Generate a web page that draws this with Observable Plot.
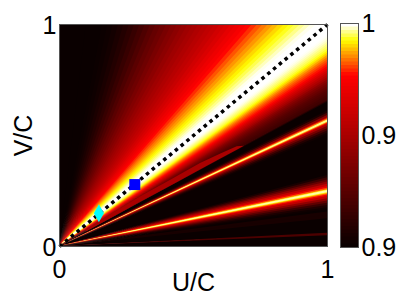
<!DOCTYPE html>
<html>
<head>
<meta charset="utf-8">
<script src="https://cdn.jsdelivr.net/npm/d3@7"></script>
<script src="https://cdn.jsdelivr.net/npm/@observablehq/plot@0.6"></script>
<style>
html,body{margin:0;padding:0;background:#fff;}
#chart{display:flex;width:398px;height:308px;}
svg{display:block;}
</style>
</head>
<body>
<div id="chart"></div>
<script>
// Colour stops of the colour bar (level -> colour)
const colorDomain = [0, 0.77, 0.93, 1];
const colorRange = ["#0a0000", "#ff0000", "#ffff00", "#ffffff"];

// Level read along the top edge (V/C = 1), by U/C
const topU = [0, .10, .16, .18, .20, .22, .24, .26, .28, .30, .32, .34, .36, .38, .40, .42, .44, .46, .48, .50,
  .52, .54, .56, .58, .60, .62, .64, .66, .68, .70, .72, .74, .76, .78, .80, .82, .84, .86, .88, .90, .92, .94, .96, .98, 1];
const topLevel = [0, 0, 0, .01, .02, .04, .065, .09, .125, .16, .195, .23, .27, .30, .33, .365, .395, .425, .455, .48,
  .505, .53, .555, .58, .61, .64, .67, .705, .73, .76, .785, .81, .835, .855, .875, .895, .915, .93, .945, .96, .975, .99, 1, 1, 1];

// Level read along the right edge (U/C = 1), by V/C
const rightV = [.98, .96, .95, .94, .93, .92, .91, .90, .89, .88, .87, .86, .85, .84, .83, .82, .81, .80, .79, .78, .77, .76, .75, .74, .73, .72, .71, .70, .69, .68, .67, .66, .655,
  .65, .61, .60, .59, .58, .575, .57, .565, .56, .555, .55, .54, .53, .52, .51, .50,
  .32, .31, .30, .29, .28, .27, .262, .256, .252, .247, .242, .238, .232, .225, .215, .205, .195, .185, .175, .165,
  .155, .14, .125, .06, .054, .048, 0];
const rightLevel = [1, 1, 1, .995, .99, .98, .97, .96, .95, .935, .915, .885, .855, .83, .81, .79, .77, .71, .65, .6, .55, .5, .44, .38, .34, .3, .27, .24, .22, .2, .18, .16, .15,
  0, 0, .1, .3, .55, .75, .93, 1, .93, .77, .6, .42, .25, .12, .04, 0,
  0, .1, .22, .36, .5, .65, .77, .88, .95, 1, .95, .88, .77, .65, .5, .34, .2, .09, .03, 0,
  0, .09, 0, 0, .42, 0, 0];

// Lens-shaped patch below the bright band
const lensU =      [.10, .20, .30, .42, .526, .60, .663, .69];
const lensTop =    [.076, .15, .222, .302, .374, .415, .449, .452];
const lensBottom = [.0655, .131, .197, .275, .345, .393, .434, .452];
const lensLevel = 0.5;

// Diagonal and markers
const diagonalU = [0, 1];
const diagonalV = [0, 1];
const squarePoint = {u: .281, v: .279};
const diamondPoint = {u: .147, v: .15};

// Ticks
const axisTicks = [0, 1];
const barLevels = [0,1,2,3,4,5,6,7,8,9,10,11,12,13,14,15,16,17,18,19,20,21,22,23,24,25,26,27,28,29,30,31,
  32,33,34,35,36,37,38,39,40,41,42,43,44,45,46,47,48,49,50,51,52,53,54,55,56,57,58,59,60,61,62,63];
const barTicks = [0, 32, 64];
const barTickLabels = ["0.9", "0.9", "1"];

// Each ray runs from the origin to a point on the frame
const rays = [
  ...topU.map((u, i) => ({u, v: 1, level: topLevel[i]})),
  ...rightV.map((v, i) => ({u: 1, v, level: rightLevel[i]}))
];
// Each wedge overlaps the next so no seam shows
const wedgeRows = rays.slice(0, -1).flatMap((r, i) => {
  const next = rays[Math.min(i + 2, rays.length - 1)];
  const level = (r.level + rays[i + 1].level) / 2;
  return [
    {wedge: i, u1: 0, v1: 0, u2: 0, v2: 0, level},
    {wedge: i, u1: r.u, v1: r.v, u2: next.u, v2: next.v, level}
  ];
});
const lensRows = lensU.map((u, i) => ({u, top: lensTop[i], bottom: lensBottom[i]}));

const narrowDiamond = {
  draw(context, size) {
    const r = Math.sqrt(size / Math.PI);
    context.moveTo(0, -r);
    context.lineTo(r * 0.56, 0);
    context.lineTo(0, r);
    context.lineTo(-r * 0.56, 0);
    context.closePath();
  }
};

const colorScale = {type: "linear", domain: colorDomain, range: colorRange, interpolate: "rgb"};
const fontFamily = "'Liberation Sans', Arial, sans-serif";

const main = Plot.plot({
  width: 334, height: 308,
  marginLeft: 59, marginRight: 7, marginTop: 24, marginBottom: 62,
  style: {fontFamily, fontSize: "25px", color: "#000", background: "#fff"},
  x: {domain: [0, 1]},
  y: {domain: [0, 1]},
  color: colorScale,
  marks: [
    Plot.area(wedgeRows, {x1: "u1", y1: "v1", x2: "u2", y2: "v2", z: "wedge", fill: "level"}),
    Plot.areaY(lensRows, {x: "u", y1: "bottom", y2: "top", fill: () => lensLevel, z: null}),
    Plot.line(diagonalU.map((u, i) => ({u, v: diagonalV[i]})), {x: "u", y: "v", stroke: "#000", strokeWidth: 3.5, strokeDasharray: "3.5,4", strokeLinecap: "butt"}),
    Plot.dot([squarePoint], {x: "u", y: "v", symbol: "square", r: 6.2, fill: "#0000ff", stroke: "none"}),
    Plot.dot([diamondPoint], {x: "u", y: "v", symbol: narrowDiamond, r: 9, fill: "#00ffff", stroke: "none"}),
    Plot.frame({stroke: "#555", strokeWidth: 1}),
    Plot.axisX({ticks: axisTicks, tickSize: 0, tickPadding: 14, fontSize: 25, tickFormat: d => String(d), label: null}),
    Plot.axisX({ticks: [], dx: -3, fontSize: 25, label: "U/C", labelAnchor: "center", labelArrow: "none", labelOffset: 44}),
    Plot.axisY({ticks: axisTicks, tickSize: 0, dy: 1, tickPadding: 3, fontSize: 25, tickFormat: d => String(d),
      label: "V/C", labelAnchor: "center", labelArrow: "none", labelOffset: 45})
  ]
});

const bar = Plot.plot({
  width: 64, height: 308,
  marginLeft: 6, marginRight: 40, marginTop: 23, marginBottom: 61,
  style: {fontFamily, fontSize: "25px", color: "#000", background: "#fff"},
  y: {domain: [0, 64]},
  color: colorScale,
  marks: [
    Plot.rect(barLevels, {y1: d => d, y2: () => 64, fill: d => d / 63}),
    Plot.frame({stroke: "#555", strokeWidth: 1}),
    Plot.axisY({anchor: "right", ticks: barTicks, tickSize: 0, tickPadding: 3, fontSize: 25,
      tickFormat: d => barTickLabels[barTicks.indexOf(d)], label: null})
  ]
});

const host = document.getElementById("chart");
host.append(main, bar);
</script>
</body>
</html>
